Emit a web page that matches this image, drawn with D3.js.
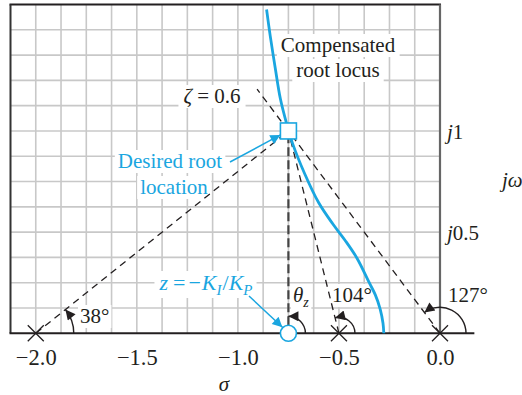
<!DOCTYPE html>
<html><head><meta charset="utf-8">
<script src="https://cdn.jsdelivr.net/npm/d3@7"></script>
<style>
html,body{margin:0;padding:0;background:#fff;}
svg text, svg tspan{font-family:'Liberation Serif','Times New Roman',Times,'DejaVu Serif',serif !important;}
</style></head><body>
<svg id="c" width="522" height="395" style="font-family:'Liberation Serif','Times New Roman',Times,serif"></svg>
<script>
// ---------- data ----------
const poles = [-2.0, -0.5, 0.0];
const poleAngleLabels = ["38°", "104°", "127°"];
const zeros = [-0.75];
const desiredSigma = [-0.75];
const desiredOmega = [1.0];
const zetaLabel = "0.6";
const zetaLineEnd = [-0.905, 1.207];
const locusSigma = [-0.278, -0.282, -0.296, -0.32, -0.35, -0.41, -0.47, -0.53, -0.60, -0.67, -0.73, -0.76, -0.79, -0.815, -0.84, -0.858];
const locusOmega = [0.0, 0.05, 0.12, 0.19, 0.25, 0.37, 0.46, 0.54, 0.645, 0.79, 0.94, 1.04, 1.16, 1.31, 1.47, 1.60];
const xTickValues = [-2.0, -1.5, -1.0, -0.5, 0.0];
const xTickLabels = ["−2.0", "−1.5", "−1.0", "−0.5", "0.0"];
const yTickValues = [1.0, 0.5];
const yTickLabels = ["1", "0.5"];
const gridStep = 0.125;

// ---------- setup ----------
const FONT = "'Liberation Serif','Times New Roman',Times,serif";
const BLUE = "#1aa6e0", INK = "#231f20";
const svg = d3.select("#c");
const x = d3.scaleLinear().domain([-2.125, 0]).range([10.5, 440]);
const y = d3.scaleLinear().domain([0, 1.625]).range([333.3, 4.5]);

const defs = svg.append("defs");
function marker(id, color, len, wid) {
  defs.append("marker").attr("id", id).attr("viewBox", "0 0 10 10")
    .attr("refX", 10).attr("refY", 5).attr("markerUnits", "userSpaceOnUse")
    .attr("markerWidth", len).attr("markerHeight", wid).attr("orient", "auto")
    .append("path").attr("d", "M0,0 L10,5 L0,10 Z").attr("fill", color);
}
marker("ah", INK, 12, 10);
marker("ahb", BLUE, 12, 10);

const gridG = svg.append("g");
const bgLayer = svg.append("g");
const lineLayer = svg.append("g");
const textLayer = svg.append("g").attr("font-family", FONT);

// grid
const [x0, x1] = x.domain(), [y0, y1] = y.domain();
const vx = d3.range(1, Math.round((x1 - x0) / gridStep)).map(i => x0 + i * gridStep);
const hy = d3.range(1, Math.round((y1 - y0) / gridStep)).map(i => y0 + i * gridStep);
gridG.selectAll("line.v").data(vx).join("line")
  .attr("x1", d => x(d)).attr("x2", d => x(d)).attr("y1", y(y0)).attr("y2", y(y1))
  .attr("stroke", "#c8c8c8").attr("stroke-width", 1.6);
gridG.selectAll("line.h").data(hy).join("line")
  .attr("y1", d => y(d)).attr("y2", d => y(d)).attr("x1", x(x0)).attr("x2", x(x1))
  .attr("stroke", "#c8c8c8").attr("stroke-width", 1.6);

// frame
gridG.append("line").attr("x1", x(x0) - 1).attr("x2", x(x1) + 1).attr("y1", y(y1)).attr("y2", y(y1))
  .attr("stroke", INK).attr("stroke-width", 2);
gridG.append("line").attr("x1", x(x0)).attr("x2", x(x0)).attr("y1", y(y1)).attr("y2", y(0))
  .attr("stroke", "#333").attr("stroke-width", 2);
gridG.append("line").attr("x1", x(0)).attr("x2", x(0)).attr("y1", y(y1)).attr("y2", y(0))
  .attr("stroke", "#666").attr("stroke-width", 2.2);
gridG.append("line").attr("x1", x(x0) - 1).attr("x2", x(0.17)).attr("y1", y(0)).attr("y2", y(0))
  .attr("stroke", INK).attr("stroke-width", 2);

// x ticks
const xAxis = d3.axisBottom(x).tickValues(xTickValues).tickSize(0).tickPadding(16)
  .tickFormat((d, i) => xTickLabels[i]);
const xg = svg.append("g").attr("transform", `translate(0,${y(0)})`).call(xAxis);
xg.attr("font-family", FONT).attr("font-size", 22);
xg.select(".domain").remove();
xg.selectAll("text").attr("fill", INK).style("font-size", "22.5px").style("font-family", FONT);

// label helper
function addLabel(px, py, anchor, color, size, build, pad) {
  const t = textLayer.append("text").attr("x", px).attr("y", py).attr("text-anchor", anchor)
    .attr("fill", color).style("font-size", size + "px").style("font-family", FONT);
  build(t);
  if (pad != null) {
    const b = t.node().getBBox();
    bgLayer.append("rect").attr("x", b.x - pad).attr("y", b.y + 1).attr("width", b.width + 2 * pad)
      .attr("height", b.height - 1).attr("fill", "#fff");
  }
  return t;
}
const it = (t, s) => t.append("tspan").style("font-style", "italic").text(s);
const rm = (t, s) => t.append("tspan").text(s);

// y tick labels
yTickValues.forEach((v, i) => {
  addLabel(447, y(v) + 8, "start", INK, 21, t => { it(t, "j"); rm(t, yTickLabels[i]); });
});

// axis titles
addLabel(502, 187, "start", INK, 21, t => { it(t, "j"); it(t, "ω"); });
addLabel(224, 391, "middle", INK, 21, t => it(t, "σ"));

// ---------- geometry ----------
const ds = desiredSigma[0], dw = desiredOmega[0];

poles.forEach(p => {
  lineLayer.append("line").attr("x1", x(p)).attr("y1", y(0)).attr("x2", x(ds)).attr("y2", y(dw))
    .attr("stroke", INK).attr("stroke-width", 1.3).attr("stroke-dasharray", "7,5");
});
lineLayer.append("line").attr("x1", x(ds)).attr("y1", y(dw)).attr("x2", x(zetaLineEnd[0])).attr("y2", y(zetaLineEnd[1]))
  .attr("stroke", INK).attr("stroke-width", 1.3).attr("stroke-dasharray", "7,5");
zeros.forEach(z => {
  lineLayer.append("line").attr("x1", x(z)).attr("y1", y(0) - 8).attr("x2", x(ds)).attr("y2", y(dw))
    .attr("stroke", "#444").attr("stroke-width", 2.2).attr("stroke-dasharray", "9,4");
});

const locus = locusSigma.map((s, i) => [s, locusOmega[i]]);
lineLayer.append("path").datum(locus)
  .attr("d", d3.line().x(d => x(d[0])).y(d => y(d[1])).curve(d3.curveCatmullRom))
  .attr("fill", "none").attr("stroke", BLUE).attr("stroke-width", 2.8);

const arcR = [38, 16, 26];
function arc(cx, cy, r, ang) {
  const ex = cx + r * Math.cos(ang), ey = cy - r * Math.sin(ang);
  return `M${cx + r},${cy} A${r},${r} 0 0 0 ${ex},${ey}`;
}
poles.forEach((p, i) => {
  const ang = Math.atan2(dw, ds - p);
  lineLayer.append("path").attr("d", arc(x(p), y(0), arcR[i], ang))
    .attr("fill", "none").attr("stroke", INK).attr("stroke-width", 1.4).attr("marker-end", "url(#ah)");
});
zeros.forEach(z => {
  const ang = Math.atan2(dw, ds - z);
  lineLayer.append("path").attr("d", arc(x(z), y(0), 17, ang))
    .attr("fill", "none").attr("stroke", INK).attr("stroke-width", 1.4).attr("marker-end", "url(#ah)");
});

poles.forEach(p => {
  const cx = x(p), cy = y(0), h = 8;
  lineLayer.append("path").attr("d", `M${cx - h},${cy - h}L${cx + h},${cy + h}M${cx - h},${cy + h}L${cx + h},${cy - h}`)
    .attr("stroke", INK).attr("stroke-width", 1.3);
});
zeros.forEach(z => {
  lineLayer.append("circle").attr("cx", x(z)).attr("cy", y(0)).attr("r", 8)
    .attr("fill", "#fff").attr("stroke", BLUE).attr("stroke-width", 1.6);
});
lineLayer.append("rect").attr("x", x(ds) - 8).attr("y", y(dw) - 8).attr("width", 16).attr("height", 16)
  .attr("fill", "#fff").attr("stroke", BLUE).attr("stroke-width", 1.6);

lineLayer.append("line").attr("x1", 230).attr("y1", 162).attr("x2", x(ds) - 8).attr("y2", y(dw) + 4)
  .attr("stroke", BLUE).attr("stroke-width", 1.5).attr("marker-end", "url(#ahb)");
lineLayer.append("line").attr("x1", 249).attr("y1", 296).attr("x2", x(zeros[0]) - 6).attr("y2", y(0) - 6)
  .attr("stroke", BLUE).attr("stroke-width", 1.5).attr("marker-end", "url(#ahb)");

// ---------- text labels ----------
addLabel(338, 52, "middle", INK, 21, t => rm(t, "Compensated"), 4);
addLabel(338, 77, "middle", INK, 21, t => rm(t, "root locus"), 4);
addLabel(212, 103, "middle", INK, 21, t => { it(t, "ζ"); rm(t, " = " + zetaLabel); }, 5);
addLabel(170, 168, "middle", BLUE, 21, t => rm(t, "Desired root"), 3);
addLabel(174, 194, "middle", BLUE, 21, t => rm(t, "location"), 3);
addLabel(206, 290, "middle", BLUE, 22, t => {
  it(t, "z");
  rm(t, "=").attr("dx", 5);
  rm(t, "−").attr("dx", 3);
  it(t, "K").attr("dx", 1);
  it(t, "I").attr("dy", 5).style("font-size", "15px");
  rm(t, "/").attr("dy", -5).attr("dx", 1);
  it(t, "K");
  it(t, "P").attr("dy", 5).style("font-size", "15px");
}, 4);
addLabel(293, 302, "start", INK, 21, t => { it(t, "θ"); it(t, "z").attr("dy", 5).style("font-size", "14px"); }, 2);
addLabel(80, 323, "start", INK, 21, t => rm(t, poleAngleLabels[0]), 2);
addLabel(332, 302, "start", INK, 21, t => rm(t, poleAngleLabels[1]), 2);
addLabel(448, 302, "start", INK, 21, t => rm(t, poleAngleLabels[2]), 2);
</script>
</body></html>
